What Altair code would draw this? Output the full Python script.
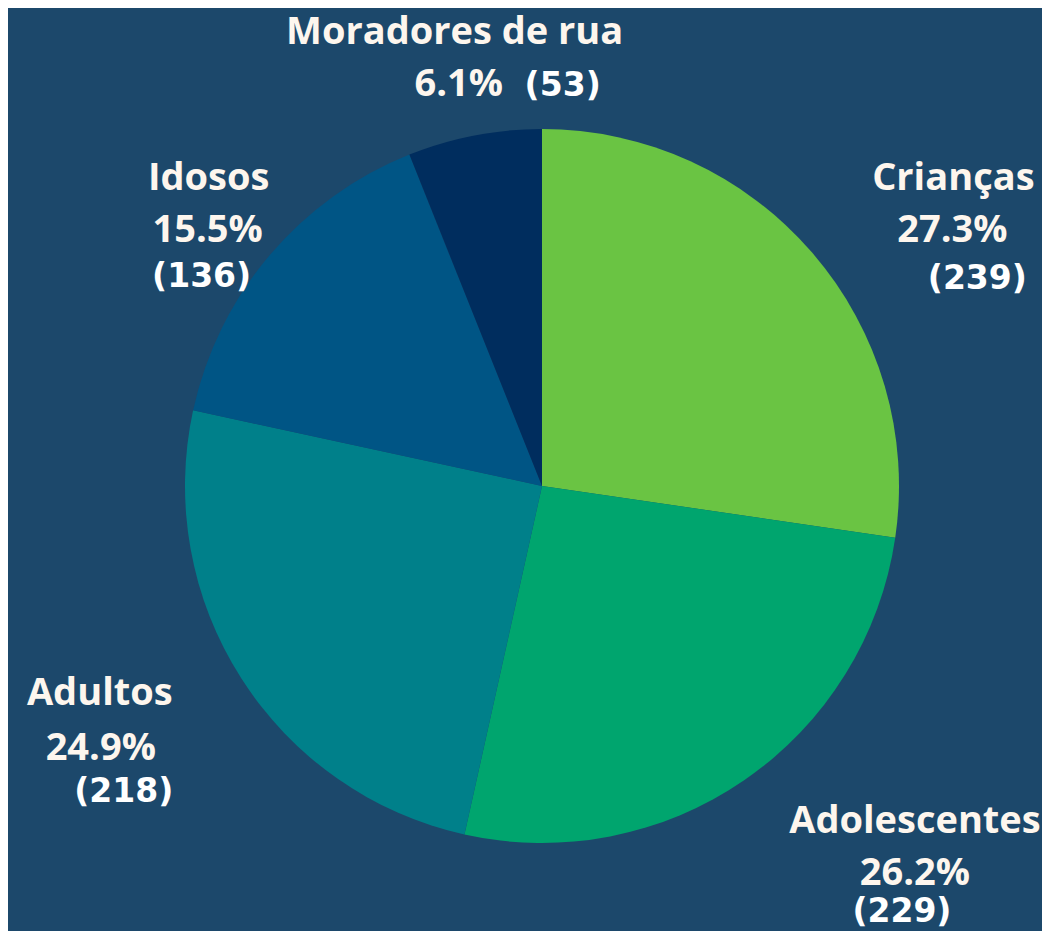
import altair as alt
import pandas as pd

categories = ["Crianças", "Adolescentes", "Adultos", "Idosos", "Moradores de rua"]
counts = [239, 229, 218, 136, 53]
percents = ["27.3%", "26.2%", "24.9%", "15.5%", "6.1%"]
colors = ["#6ac443", "#00a56e", "#00808a", "#005585", "#002d5e"]

# label offsets (dx, dy) from each slice's anchor for name, percent, count lines
label_offsets = [
    [(86, -15), (85, 37), (110, 84)],
    [(129, -7), (129, 45), (116, 82)],
    [(-80, -13), (-79, 42), (-56, 84)],
    [(-5, -18), (-6, 34), (-12, 79)],
    [(-6, -20), (-2, 32), (102, 32)],
]

df = pd.DataFrame({
    "category": categories,
    "count": counts,
    "pct": percents,
    "order": list(range(len(categories))),
})
df["countLabel"] = "(" + df["count"].astype(str) + ")"

base = alt.Chart(df).encode(
    theta=alt.Theta("count:Q", stack=True),
    order=alt.Order("order:Q", sort="ascending"),
)

pie = base.mark_arc(outerRadius=357, strokeWidth=0).encode(
    color=alt.Color("category:N", scale=alt.Scale(domain=categories, range=colors), legend=None)
)

layers = [pie]
fields = ["category", "pct", "countLabel"]
for cat, offs in zip(categories, label_offsets):
    for field, (dx, dy) in zip(fields, offs):
        is_count = field == "countLabel"
        layers.append(
            base.mark_text(
                radius=430, dx=dx, dy=dy,
                font="DejaVu Sans" if is_count else "Open Sans",
                fontWeight="bold",
                fontSize=33 if is_count else 38,
                fill="#ffffff" if is_count else "#fdf6ee",
                align="center", baseline="alphabetic",
            ).encode(
                text=alt.condition(
                    f"datum.category === '{cat}'",
                    alt.Text(f"{field}:N"),
                    alt.value(""),
                )
            )
        )

chart = alt.layer(*layers).properties(
    width=1000,
    height=874,
    autosize=alt.AutoSizeParams(type="none"),
    padding={"left": 34, "top": 41, "right": 0, "bottom": 8},
    background="#1c486b",
).configure_view(strokeWidth=0)

chart.save("out.html", embed_options={"renderer": "svg", "actions": False})
